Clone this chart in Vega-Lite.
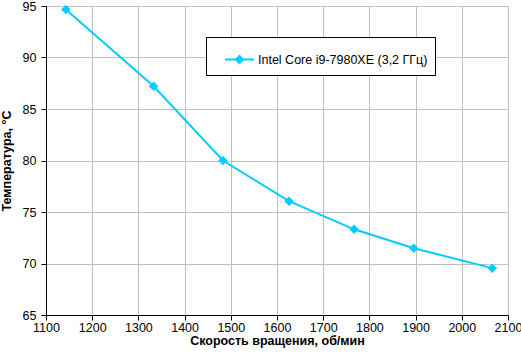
{
  "$schema": "https://vega.github.io/schema/vega-lite/v6.json",
  "width": 462,
  "height": 309,
  "autosize": {"type": "none"},
  "padding": {"left": 46, "top": 6, "right": 13, "bottom": 40},
  "background": "white",
  "data": {
    "values": [
      {"rpm": 1143, "temp": 94.65, "series": "Intel Core i9-7980XE (3,2 ГГц)"},
      {"rpm": 1333, "temp": 87.2, "series": "Intel Core i9-7980XE (3,2 ГГц)"},
      {"rpm": 1483, "temp": 80.0, "series": "Intel Core i9-7980XE (3,2 ГГц)"},
      {"rpm": 1626, "temp": 76.05, "series": "Intel Core i9-7980XE (3,2 ГГц)"},
      {"rpm": 1767, "temp": 73.32, "series": "Intel Core i9-7980XE (3,2 ГГц)"},
      {"rpm": 1896, "temp": 71.48, "series": "Intel Core i9-7980XE (3,2 ГГц)"},
      {"rpm": 2066, "temp": 69.55, "series": "Intel Core i9-7980XE (3,2 ГГц)"}
    ]
  },
  "mark": {
    "type": "line",
    "strokeWidth": 2,
    "point": {"shape": "diamond", "size": 90, "filled": true, "strokeWidth": 0}
  },
  "encoding": {
    "x": {
      "field": "rpm",
      "type": "quantitative",
      "scale": {"domain": [1100, 2100], "nice": false, "zero": false},
      "axis": {
        "title": "Скорость вращения, об/мин",
        "values": [1100, 1200, 1300, 1400, 1500, 1600, 1700, 1800, 1900, 2000, 2100],
        "format": "d",
        "labelOverlap": false,
        "labelFlush": false,
        "labelPadding": 1,
        "titlePadding": 1
      }
    },
    "y": {
      "field": "temp",
      "type": "quantitative",
      "scale": {"domain": [65, 95], "nice": false, "zero": false},
      "axis": {
        "title": "Температура, °С",
        "values": [65, 70, 75, 80, 85, 90, 95],
        "format": "d",
        "labelOverlap": false,
        "labelFlush": false,
        "labelPadding": 5,
        "titlePadding": 9
      }
    },
    "color": {
      "field": "series",
      "type": "nominal",
      "scale": {"range": ["#00CCFF"]},
      "legend": {
        "title": null,
        "orient": "none",
        "legendX": 160,
        "legendY": 31,
        "symbolType": "M-1,0L1,0M0,-0.25L0.25,0L0,0.25L-0.25,0Z",
        "symbolSize": 841,
        "symbolStrokeWidth": 2,
        "symbolFillColor": "#00CCFF",
        "symbolStrokeColor": "#00CCFF",
        "symbolOffset": 11,
        "labelOffset": 3,
        "padding": 7,
        "strokeColor": "black",
        "fillColor": "white",
        "labelFontSize": 12.5,
        "labelFont": "Liberation Sans",
        "labelColor": "black",
        "labelLimit": 400
      }
    }
  },
  "config": {
    "view": {"stroke": "#808080", "strokeWidth": 1},
    "axis": {
      "domainColor": "black",
      "domainWidth": 1,
      "tickColor": "black",
      "tickSize": 5,
      "gridColor": "#C0C0C0",
      "gridWidth": 1,
      "gridOpacity": 1,
      "labelColor": "black",
      "titleColor": "black",
      "labelFont": "Liberation Sans",
      "titleFont": "Liberation Sans",
      "labelFontSize": 12.5,
      "titleFontSize": 12.5,
      "titleFontWeight": "bold"
    }
  }
}
